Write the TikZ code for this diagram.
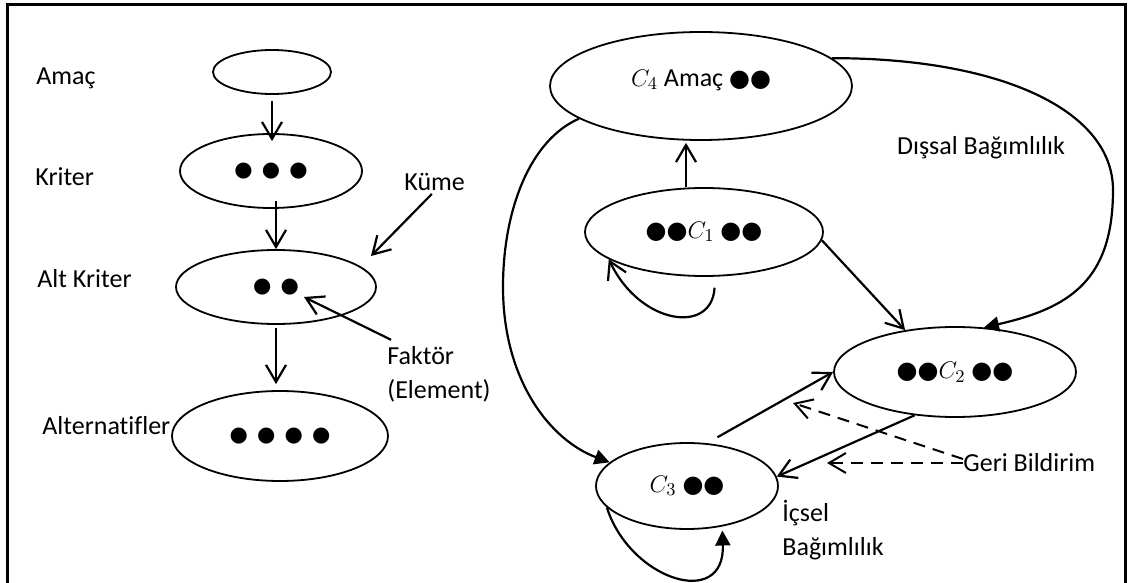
\documentclass[tikz,border=0pt]{standalone}
\usepackage{fontspec}
\setmainfont{Carlito}[Ligatures=NoCommon]
\newfontfamily\dotfont{DejaVu Sans}
\usetikzlibrary{arrows.meta,shapes.geometric}
% element markers: larger ones for the network clusters, smaller ones for the hierarchy
\newcommand\bigblob{{\dotfont\fontsize{12}{14}\selectfont ●}}
\newcommand\smallblob{{\dotfont\fontsize{10.5}{12}\selectfont ●}}
\newcommand\blobgap{\hspace{4.6pt}}

\begin{document}
\begin{tikzpicture}[x=0.5pt,y=-0.5pt,
  every node/.style={font=\fontsize{13}{17}\selectfont},
  set/.style={ellipse, draw, line width=0.9pt, inner sep=0pt},
  lbl/.style={inner sep=0pt},
  open/.style={-{Straight Barb[length=8.5pt,width=10pt]}, line width=1.1pt},
  shut/.style={-{Triangle[length=7.5pt,width=7.5pt]}, line width=1.1pt},
  fb/.style={open, dash pattern=on 6pt off 4pt, line width=1pt}]

\useasboundingbox (0,0) rectangle (1132,583);
% outer frame (its bottom edge lies below the page)
\draw[line width=1.5pt] (7,600) -- (7,5) -- (1125,5) -- (1125,600);

% ---------- hierarchy (left) ----------
\node[set, minimum width=59pt,  minimum height=22pt] (amac)   at (272,72)  {};
\node[set, minimum width=91pt,  minimum height=37pt] (kriter) at (271,171) {\smallblob\blobgap\smallblob\blobgap\smallblob};
\node[set, minimum width=100pt, minimum height=37pt] (altk)   at (276,287) {\smallblob\blobgap\smallblob};
\node[set, minimum width=108pt, minimum height=45pt] (alt)    at (280,436) {\smallblob\blobgap\smallblob\blobgap\smallblob\blobgap\smallblob};

\node[lbl, anchor=west] (lamac)   at (36,78)  {Amaç};
\node[lbl, anchor=west] (lkriter) at (35,177) {Kriter};
\node[lbl, anchor=west] (laltk)   at (37,279) {Alt Kriter};
\node[lbl, anchor=west] (lalt)    at (42,426) {Alternatifler};
\node[lbl, anchor=west] (kume)    at (404,182) {Küme};
\node[lbl, anchor=west, align=left] (faktor) at (387,374) {Faktör\\(Element)};

\coordinate (kumetip) at (371,256);
\coordinate (faktip)  at (304,297);

\draw[open, shorten <=3pt, shorten >=-4pt] (amac.south) -- (amac.south |- kriter.north);
\draw[open, shorten <=-4pt] (altk.north |- kriter.south) -- (altk.north);
\draw[open, shorten <=1.5pt, shorten >=3pt] (altk.south) -- (altk.south |- alt.north);
\draw[open, shorten <=2pt] (kume.south) -- (kumetip);
\draw[open] ([shift={(2pt,3pt)}]faktor.north west) -- (faktip);

% ---------- network (right) ----------
\node[set, minimum width=151pt, minimum height=54pt] (c4) at (701,86)  {\raisebox{8pt}{$C_4$ Amaç \bigblob\bigblob}};
\node[set, minimum width=119pt, minimum height=44pt] (c1) at (704,232) {\bigblob\bigblob$C_1$ \bigblob\bigblob};
\node[set, minimum width=121pt, minimum height=45pt] (c2) at (955,372) {\bigblob\bigblob$C_2$ \bigblob\bigblob};
\node[set, minimum width=91pt,  minimum height=43pt] (c3) at (687,486) {$C_3$ \bigblob\bigblob};

\node[lbl] (dissal) at (981,148) {Dışsal Bağımlılık};
\node[lbl, anchor=west] (geri) at (963,463) {Geri Bildirim};
\node[lbl, anchor=west, align=left] (icsel) at (782,530) {İçsel\\Bağımlılık};

\coordinate (fb1) at (793,403);
\coordinate (fb2) at (827,463);

% C1 -> C4 and C1 -> C2
\draw[open, shorten >=1pt] ([xshift=-9pt]c1.north) -- ([xshift=-9pt]c1.north |- c4.south);
\draw[open] (c1.-4) -- (c2.140);
% outer dependence C4 -> C2
\draw[shut] (c4.12) .. controls (1000,58) and (1113,110) .. (1113,190)
            .. controls (1113,280) and (1070,308) .. (c2.57);
% C4 -> C3
\draw[shut] (c4.195) .. controls (530,140) and (503,210) .. (503,287)
            .. controls (503,380) and (550,440) .. (c3.163);
% inner dependence loops
\draw[open, shorten <=5.5pt] (c1.-76) .. controls (712,335) and (640,325) .. (c1.196);
\draw[shut, shorten >=2pt] (c3.195) .. controls (630,580) and (725,610) .. (c3.-49);
% C3 <-> C2
\draw[open, shorten <=6pt] (c3.65) -- (c2.180);
\draw[open] (c2.227) -- (c3.6);
% feedback pointers
\draw[fb] ([yshift=2pt]geri.west) -- (fb1);
\draw[fb] (geri.west) -- (fb2);
\end{tikzpicture}
\end{document}
